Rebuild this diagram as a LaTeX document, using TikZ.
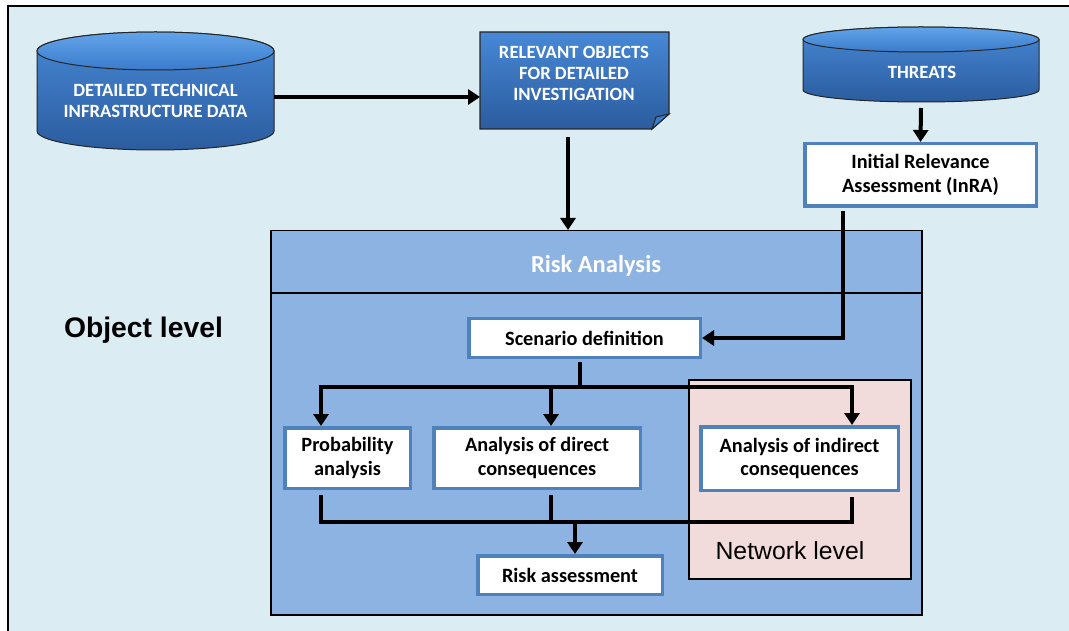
\documentclass[tikz,border=0pt]{standalone}
\usepackage{fontspec}
\setmainfont{Carlito}
\newfontfamily\arialfont{Liberation Sans}
\usetikzlibrary{arrows.meta,calc}
\definecolor{bgblue}{HTML}{DBEDF3}
\definecolor{rablue}{HTML}{8DB3E2}
\definecolor{boxborder}{HTML}{4F81BD}
\definecolor{pinkfill}{HTML}{F2DCDB}
\definecolor{dbtop}{HTML}{4788D6}
\definecolor{dbbot}{HTML}{2B5C9E}
\definecolor{dblight}{HTML}{62A4EA}
\definecolor{dbmid}{HTML}{3B7BCB}
\begin{document}
\begin{tikzpicture}[x=1pt,y=-1pt,
  whitebox/.style={draw=boxborder, line width=3.5pt, fill=white, font=\fontsize{20.3}{23.5}\selectfont\bfseries, align=center, inner sep=0pt},
  captext/.style={text=white, font=\fontsize{18.7}{21}\selectfont\bfseries, align=center},
  line/.style={line width=4pt, draw=black},
  conn/.style={line, -{Triangle[width=15pt,length=12pt]}},
  anchorbox/.style={inner sep=0pt, outer sep=0pt},
  dbbody/.style={draw=black!85, line width=1pt, top color=dbtop, bottom color=dbbot},
  dbcap/.style={draw=black!85, line width=1pt, top color=dblight, bottom color=dbmid},
]
\useasboundingbox (0,0) rectangle (1069,631);
\fill[white] (0,0) rectangle (1069,631);
\fill[bgblue] (8,6) rectangle (1069,631);
\draw[line width=2.5pt] (8,631) -- (8,6) -- (1069,6);

% cylinder 1
\path[dbbody] (37,51) -- (37,131) arc[start angle=180, end angle=360, x radius=118.5pt, y radius=19pt] -- (274,51) arc[start angle=0, end angle=180, x radius=118.5pt, y radius=19pt] -- cycle;
\path[dbcap] (155.5,51) ellipse [x radius=118.5pt, y radius=19pt];
\node[anchorbox, minimum width=237pt, minimum height=118pt] (cyl1) at (155.5,91) {};
\node[captext] (cyl1text) at (155.5,101) {DETAILED TECHNICAL\\INFRASTRUCTURE DATA};

% threats cylinder
\path[dbbody] (803,39.5) -- (803,90) arc[start angle=180, end angle=360, x radius=118pt, y radius=12pt] -- (1039,39.5) arc[start angle=0, end angle=180, x radius=118pt, y radius=12.5pt] -- cycle;
\path[dbcap] (921,39.5) ellipse [x radius=118pt, y radius=12.5pt];
\node[anchorbox, minimum width=236pt, minimum height=75pt] (thr) at (921,64.5) {};
\node[captext] (thrtext) at (922,72) {THREATS};

% document
\path[draw=black!85, line width=1.2pt, top color=dbtop, bottom color=dbbot] (480,32) -- (669,32) -- (669,114) -- (652,129) -- (480,129) -- cycle;
\path[draw=black!85, line width=1pt, fill=dbmid] (669,114) -- (652,129) -- (656,117) -- cycle;
\node[anchorbox, minimum width=189pt, minimum height=97pt] (doc) at (574.5,80.5) {};
\node[captext] (doctext) at (574,73) {RELEVANT OBJECTS\\FOR DETAILED\\INVESTIGATION};

% risk analysis frame
\node[draw=black, line width=1.5pt, fill=rablue, minimum width=651pt, minimum height=384pt, anchor=north west, inner sep=0pt] (ra) at (270,230) {};
\draw[line width=2pt] (ra.west |- 0,293) -- (ra.east |- 0,293);
\node[text=white, font=\fontsize{24.5}{27}\selectfont\bfseries] (ratitle) at (596,266) {Risk Analysis};

% network frame
\node[draw=black, line width=1.5pt, fill=pinkfill, minimum width=222pt, minimum height=199pt, anchor=north west, inner sep=0pt] (net) at (688,379) {};
\node[font=\arialfont\fontsize{24.8}{27}\selectfont] (netlabel) at (790,551) {Network level};

\node[font=\arialfont\bfseries\fontsize{28.3}{31}\selectfont] (objlabel) at (143.5,330) {Object level};

% boxes
\node[whitebox, minimum width=231.5pt, minimum height=62.5pt] (inra) at (920.5,175) {Initial Relevance\\Assessment (InRA)};
\node[whitebox, minimum width=231.5pt, minimum height=38.5pt] (scen) at (584.5,338) {Scenario definition};
\node[whitebox, minimum width=125.5pt, minimum height=60.5pt] (prob) at (347.5,458) {Probability\\analysis};
\node[whitebox, minimum width=206.5pt, minimum height=60.5pt] (direct) at (537,458) {Analysis of direct\\consequences};
\node[whitebox, minimum width=197.5pt, minimum height=63.5pt] (indirect) at (799.5,458.5) {Analysis of indirect\\consequences};
\node[whitebox, minimum width=184.5pt, minimum height=38.5pt] (riskass) at (570,575) {Risk assessment};

% connectors
\draw[conn] ([yshift=-6pt]cyl1.east) -- ([yshift=-6pt]cyl1.east -| doc.west);
\draw[conn] ([xshift=-6.5pt,yshift=-8pt]doc.south) -- ([xshift=-6.5pt]doc.south |- ra.north);
\draw[conn] ([yshift=-6pt]thr.south) -- (inra.north);
\draw[conn] ([xshift=-77.5pt,yshift=-3pt]inra.south) |- (scen.east);

\coordinate (split) at (580,387);
\draw[line] ([xshift=-4.5pt,yshift=-3pt]scen.south) -- (split);
\draw[conn] (split) -| ([xshift=-26.5pt]prob.north);
\draw[conn] (split) -| ([xshift=52.5pt]indirect.north);
\draw[conn] ([xshift=14pt]direct.north |- split) -- ([xshift=14pt]direct.north);

\coordinate (merge) at (575,522);
\draw[line] ([xshift=-26.5pt,yshift=-5pt]prob.south) |- (merge) -| ([xshift=52.5pt,yshift=-5pt]indirect.south);
\draw[line] ([xshift=14pt,yshift=-5pt]direct.south) -- ([xshift=14pt]direct.south |- merge);
\draw[conn] (merge) -- (merge |- riskass.north);
\end{tikzpicture}
\end{document}
